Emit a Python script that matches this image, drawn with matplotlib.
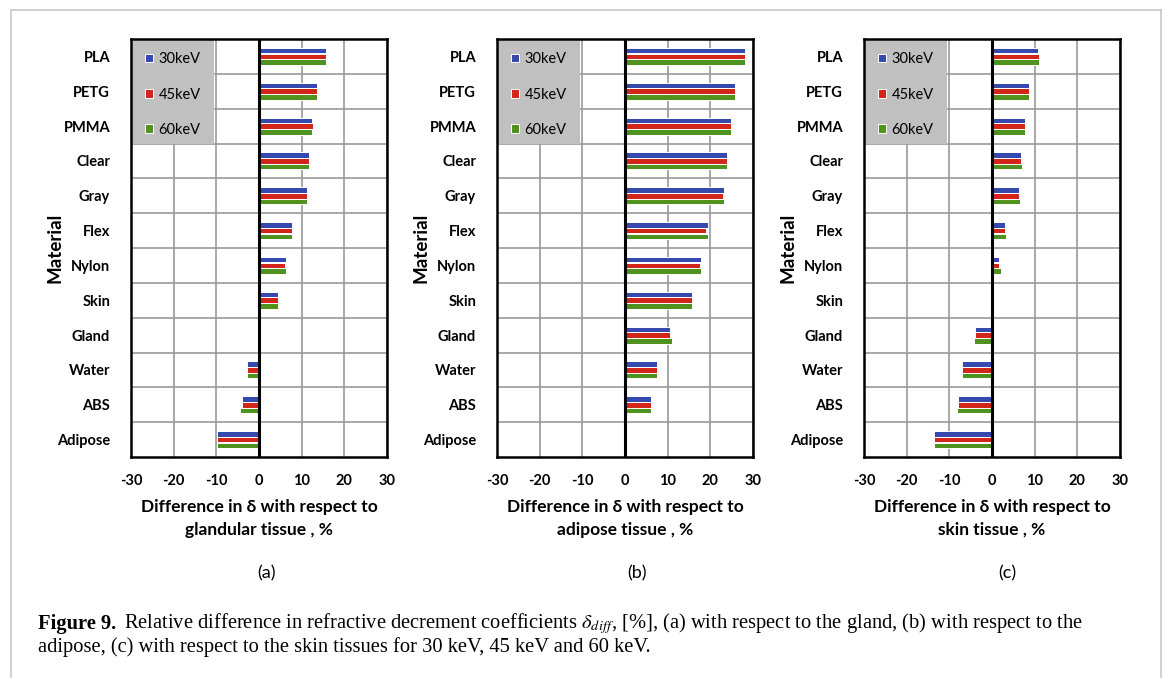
import numpy as np
import matplotlib.pyplot as plt
from matplotlib.patches import Rectangle
from matplotlib.lines import Line2D

plt.rcParams['font.family'] = ['Lato', 'DejaVu Sans']
plt.rcParams['axes.unicode_minus'] = False
plt.rcParams['mathtext.fontset'] = 'stix'

# data (% difference in delta)
materials = ['PLA', 'PETG', 'PMMA', 'Clear', 'Gray', 'Flex', 'Nylon', 'Skin',
             'Gland', 'Water', 'ABS', 'Adipose']
energies = ['30keV', '45keV', '60keV']

gland_30 = [15.7, 13.5, 12.5, 11.8, 11.2, 7.8, 6.3, 4.4, 0, -2.9, -4.1, -9.9]
gland_45 = [15.7, 13.5, 12.7, 11.8, 11.2, 7.8, 6.1, 4.4, 0, -2.9, -4.1, -9.9]
gland_60 = [15.7, 13.5, 12.5, 11.8, 11.2, 7.8, 6.3, 4.4, 0, -2.9, -4.4, -9.9]

adipose_30 = [28.1, 25.8, 24.8, 23.8, 23.1, 19.4, 17.8, 15.6, 10.6, 7.4, 6.0, 0]
adipose_45 = [28.1, 25.8, 24.8, 23.8, 22.9, 19.1, 17.6, 15.6, 10.6, 7.4, 6.0, 0]
adipose_60 = [28.1, 25.8, 24.8, 23.8, 23.1, 19.4, 17.8, 15.6, 10.9, 7.4, 6.0, 0]

skin_30 = [10.7, 8.7, 7.8, 6.8, 6.3, 3.0, 1.7, 0, -4.1, -7.0, -8.0, -13.5]
skin_45 = [10.9, 8.7, 7.8, 6.8, 6.3, 3.0, 1.7, 0, -4.1, -7.0, -8.0, -13.5]
skin_60 = [10.9, 8.7, 7.8, 7.0, 6.5, 3.3, 2.0, 0, -4.3, -7.0, -8.3, -13.5]

xlabels = ['Difference in δ with respect to\nglandular tissue , %',
           'Difference in δ with respect to\nadipose tissue , %',
           'Difference in δ with respect to\nskin tissue , %']
panel_tags = ['(a)', '(b)', '(c)']
colors = ['#3549AE', '#D2261B', '#4F921E']

panels = [(gland_30, gland_45, gland_60),
          (adipose_30, adipose_45, adipose_60),
          (skin_30, skin_45, skin_60)]

W, H = 1170, 678
fig = plt.figure(figsize=(W / 100, H / 100), dpi=100)

lefts = [131, 497, 864]
tag_x = [266, 637, 1007]
ypos = np.arange(len(materials))
bh = 0.16

for i, series in enumerate(panels):
    ax = fig.add_axes([lefts[i] / W, 1 - 457 / H, 256 / W, 418 / H])
    ax.set_axisbelow(True)
    handles = []
    for k, vals in enumerate(series):
        b = ax.barh(ypos + (k - 1) * 0.165, vals, height=bh, color=colors[k],
                    edgecolor='white', linewidth=0.7, zorder=2, label=energies[k])
        handles.append(b)
    ax.axvline(0, color='black', lw=2.2, zorder=3)
    ax.set_xlim(-30, 30)
    ax.set_ylim(len(materials) - 0.5, -0.5)
    ax.set_xticks(np.arange(-30, 31, 10))
    ax.set_yticks(ypos)
    ax.set_yticklabels(materials, fontweight='bold', fontsize=10.5)
    ax.set_yticks(np.arange(0.5, len(materials) - 0.5, 1), minor=True)
    ax.tick_params(axis='both', which='both', length=0)
    ax.tick_params(axis='y', pad=15)
    ax.tick_params(axis='x', pad=12, labelsize=10.5)
    for lab in ax.get_xticklabels():
        lab.set_fontweight('bold')
    ax.grid(axis='x', which='major', color='#9a9a9a', lw=1.2)
    ax.grid(axis='y', which='minor', color='#9a9a9a', lw=1.2)
    for s in ax.spines.values():
        s.set_linewidth(1.8)
        s.set_color('black')
    ax.set_xlabel(xlabels[i], fontweight='bold', fontsize=12.5, labelpad=8,
                  linespacing=1.55)
    ax.set_ylabel('Material', fontweight='bold', fontsize=13.5)
    ax.yaxis.set_label_coords(-0.262, 0.5)

    # gray legend box in the top-left corner
    ax.add_patch(Rectangle((0, 0.75), 0.3255, 0.25, transform=ax.transAxes,
                           facecolor='#c0c0c0', edgecolor='none', zorder=1.5))
    ax.legend(handles=handles, loc='upper left', bbox_to_anchor=(0.014, 0.993),
              frameon=False, fontsize=10.5, labelspacing=1.47,
              handlelength=0.55, handleheight=0.55, handletextpad=0.4,
              borderaxespad=0.3)

    fig.text(tag_x[i] / W, 1 - 573 / H, panel_tags[i], fontsize=13,
             ha='center', va='center')

# thin frame around the figure
fc = '#c8c8c8'
fig.add_artist(Line2D([11 / W, 1161 / W], [1 - 10 / H, 1 - 10 / H], color=fc, lw=1.2))
fig.add_artist(Line2D([11 / W, 11 / W], [0, 1 - 10 / H], color=fc, lw=1.2))
fig.add_artist(Line2D([1161 / W, 1161 / W], [0, 1 - 10 / H], color=fc, lw=1.2))

# caption
cap = dict(family='Liberation Serif', fontsize=14.8, va='center')
fig.text(38 / W, 1 - 624 / H, 'Figure 9.', fontweight='bold', **cap)
fig.text(124 / W, 1 - 624 / H,
         r'Relative difference in refractive decrement coefficients $\delta_{diff}$, [%], '
         '(a) with respect to the gland, (b) with respect to the', **cap)
fig.text(38 / W, 1 - 647 / H,
         'adipose, (c) with respect to the skin tissues for 30 keV, 45 keV and 60 keV.',
         **cap)

fig.savefig('out.png', dpi=100)
